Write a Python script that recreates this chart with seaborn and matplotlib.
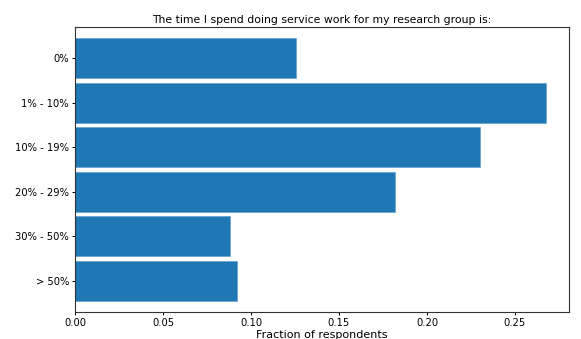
import matplotlib
matplotlib.use("Agg")
import matplotlib.pyplot as plt
import seaborn as sns
import pandas as pd

categories = ["0%", "1% - 10%", "10% - 19%", "20% - 29%", "30% - 50%", "> 50%"]
fractions = [0.1256, 0.2676, 0.2303, 0.1816, 0.0882, 0.0919]

df = pd.DataFrame({"category": categories, "fraction": fractions})

plt.rcParams['font.family'] = ['DejaVu Sans']
fig = plt.figure(figsize=(5.81, 3.39), dpi=100)
ax = fig.add_axes([75/581, 1-312/339, (569-75)/581, (312-27)/339])
sns.barplot(data=df, y="category", x="fraction", color="#1f77b4", saturation=1,
            width=0.9, orient="h", ax=ax, edgecolor="#5a9bd0", linewidth=0.4)
ax.set_ylabel("")
ax.set_xlabel("Fraction of respondents", fontsize=8, labelpad=1.5)
ax.set_title("The time I spend doing service work for my research group is:", fontsize=7.8, pad=3)
ax.tick_params(labelsize=7.2, length=2.4, width=0.7, pad=2.0)
for s in ax.spines.values():
    s.set_linewidth(0.8)
    s.set_edgecolor("#333333")
ax.set_xlim(0, 0.2807)
ax.set_ylim(5.7, -0.7)
fig.savefig("out.png", dpi=100)
